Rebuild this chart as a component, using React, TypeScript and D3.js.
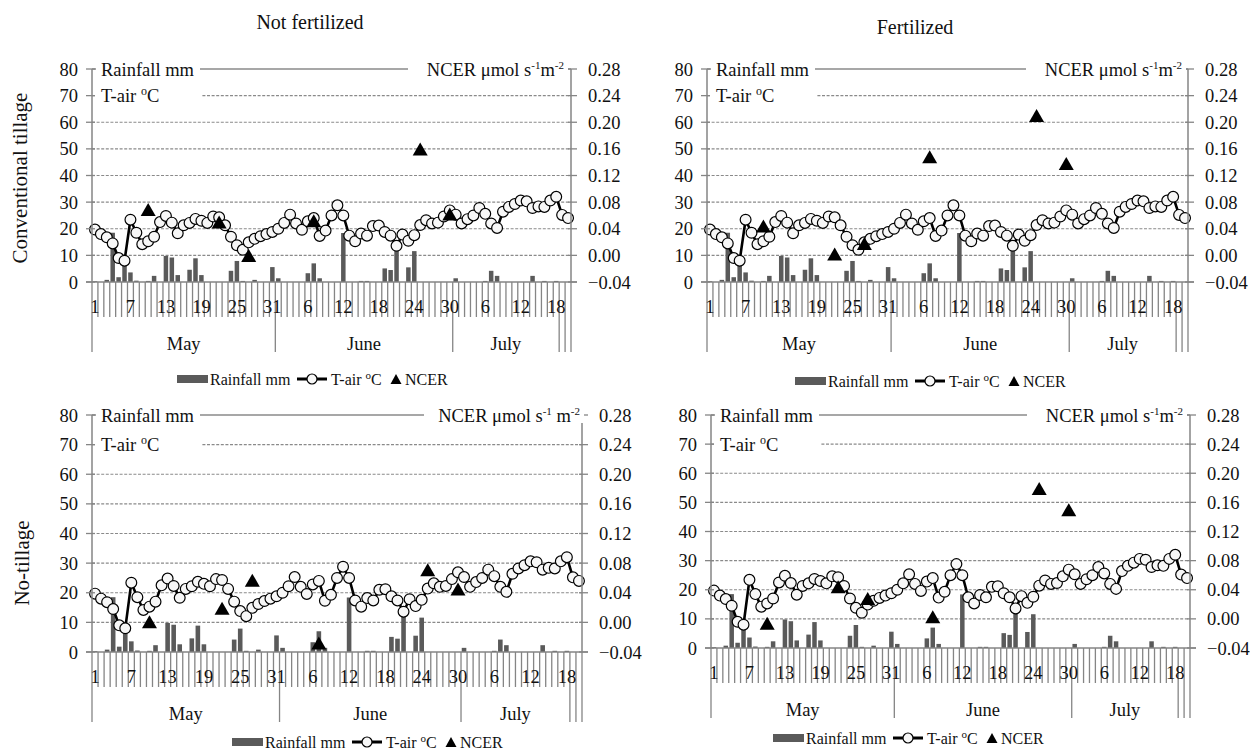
import React from "react";
import * as d3 from "d3";

// ---------- data ----------
const dayTickLabels = ["1", "7", "13", "19", "25", "31", "6", "12", "18", "24", "30", "6", "12", "18"];
const monthNames = ["May", "June", "July"];
const monthSpans = [[0, 31], [31, 61], [61, 79]];
const extraBoundaries = [79, 80, 81];

const tempC = [19.7, 18.0, 16.8, 14.5, 9.0, 8.0, 23.4, 18.5, 14.2, 15.3,
  17.0, 22.5, 24.8, 22.3, 18.3, 21.3, 22.2, 23.7, 23.0, 22.2,
  24.6, 24.3, 21.3, 17.0, 13.8, 12.1, 14.9, 16.2, 17.2, 18.0,
  18.8, 20.0, 22.2, 25.3, 22.0, 19.6, 22.8, 24.0, 17.3, 19.3,
  25.0, 28.8, 25.0, 17.4, 15.3, 18.2, 17.4, 21.0, 21.2, 18.8,
  17.4, 13.6, 17.8, 15.5, 17.6, 21.4, 23.2, 22.0, 22.3, 24.6,
  26.9, 25.3, 22.0, 23.6, 25.0, 27.8, 25.6, 22.0, 20.3, 26.4,
  28.2, 29.3, 30.6, 30.3, 27.8, 28.4, 28.2, 30.6, 32.0, 25.2, 24.0];

const rainMm = [0.3, 0, 0.8, 18.5, 1.8, 8.5, 3.6, 0.5, 0, 0.4,
  2.3, 0, 9.8, 9.2, 2.6, 0, 4.6, 8.9, 2.6, 0,
  0, 0, 0, 4.2, 7.9, 0.4, 0, 0.8, 0, 0,
  5.6, 1.4, 0, 0, 0, 0, 3.3, 7.0, 1.4, 0,
  0, 0, 18.4, 0, 0, 0.4, 0.4, 0, 0, 5.1,
  4.5, 12.5, 0, 5.5, 11.6, 0, 0, 0, 0, 0,
  0, 1.4, 0, 0, 0, 0, 0.4, 4.2, 2.3, 0,
  0, 0, 0, 0, 2.3, 0, 0.4, 0, 0.4, 0, 0];

const ncerDays = [9, 21, 26, 37, 55, 60];
const ncerConvNotFert = [0.069, 0.050, 0.000, 0.052, 0.160, 0.062];
const ncerConvFert = [0.044, 0.002, 0.018, 0.148, 0.210, 0.138];
const ncerNoTillNotFert = [0.001, 0.019, 0.057, -0.028, 0.071, 0.045];
const ncerNoTillFert = [-0.006, 0.044, 0.028, 0.003, 0.179, 0.150];

const mmTicks = [0, 10, 20, 30, 40, 50, 60, 70, 80];
const ncerTicks = [-0.04, 0.0, 0.04, 0.08, 0.12, 0.16, 0.2, 0.24, 0.28];

// ---------- style ----------
const FONT = "'Liberation Serif', 'Times New Roman', Times, 'Noto Serif', 'DejaVu Serif', FreeSerif, serif";
const AXIS = "#858585";
const GRID = "#8a8a8a";
const BAR = "#5a5a5a";

type Cfg = {
  x0: number; x1: number; yTop: number; yBot: number;
  ncer: number[];
  spaceBeforeM: boolean;
  ncerBoxRight: number;
  legendX: number; legendY: number;
};

function Panel({ cfg }: { cfg: Cfg }) {
  const n = tempC.length;
  const x = d3.scaleBand<number>().domain(d3.range(n)).range([cfg.x0, cfg.x1]).padding(0);
  const bw = x.bandwidth();
  const cx = (i: number) => (x(i) as number) + bw / 2;
  const yMm = d3.scaleLinear().domain([0, 80]).range([cfg.yBot, cfg.yTop]);
  const yN = d3.scaleLinear().domain([-0.04, 0.28]).range([cfg.yBot, cfg.yTop]);
  const line = d3.line<number>().x((_, i) => cx(i)).y((d) => yMm(d));
  const boundaries = d3.range(n + 1);
  const longB = [...monthSpans.map((s) => s[0]), ...extraBoundaries];
  const bx = (k: number) => cfg.x0 + k * bw;
  const fs = 18.5;

  const tri = (px: number, py: number, w = 15, h = 13) =>
    `M${px},${py - h / 2}L${px + w / 2},${py + h / 2}L${px - w / 2},${py + h / 2}Z`;

  return (
    <g style={{ fontFamily: FONT }} fill="#111">
      {mmTicks.filter((v) => v > 0 && v < 80).map((v) => (
        <line key={"g" + v} x1={cfg.x0} x2={cfg.x1} y1={yMm(v)} y2={yMm(v)}
          stroke={GRID} strokeWidth={1.1} strokeDasharray="3,1.6" />
      ))}
      <line x1={cfg.x0} x2={cfg.x1} y1={yMm(80)} y2={yMm(80)} stroke={GRID} strokeWidth={1.4} />

      {boundaries.map((k) => (
        <line key={"t" + k} x1={bx(k)} x2={bx(k)} y1={cfg.yBot}
          y2={cfg.yBot + (longB.includes(k) ? 70 : 35)} stroke={AXIS} strokeWidth={1.3} />
      ))}
      {dayTickLabels.map((t, j) => (
        <text key={"d" + j} x={cx(j * 6)} y={cfg.yBot + 31} fontSize={fs} textAnchor="middle">{t}</text>
      ))}
      {monthSpans.map((s, j) => (
        <text key={"m" + j} x={(bx(s[0]) + bx(s[1])) / 2} y={cfg.yBot + 68} fontSize={fs} textAnchor="middle">
          {monthNames[j]}
        </text>
      ))}

      {rainMm.map((v, i) => (v > 0 ? (
        <rect key={"b" + i} x={cx(i) - bw * 0.38} width={bw * 0.76} y={yMm(v)} height={yMm(0) - yMm(v)} fill={BAR} />
      ) : null))}

      <path d={line(tempC) || ""} fill="none" stroke="#000" strokeWidth={2.6} />
      {tempC.map((v, i) => (
        <circle key={"c" + i} cx={cx(i)} cy={yMm(v)} r={5.4} fill="#f7f7f7" stroke="#000" strokeWidth={1.2} />
      ))}

      {cfg.ncer.map((v, j) => (
        <path key={"n" + j} d={tri(cx(ncerDays[j]), yN(v))} fill="#000" />
      ))}

      <line x1={cfg.x0} x2={cfg.x0} y1={cfg.yTop} y2={cfg.yBot} stroke={AXIS} strokeWidth={1.5} />
      <line x1={cfg.x1} x2={cfg.x1} y1={cfg.yTop} y2={cfg.yBot} stroke={AXIS} strokeWidth={1.5} />
      <line x1={cfg.x0 - 6} x2={cfg.x1 + 6} y1={cfg.yBot} y2={cfg.yBot} stroke={AXIS} strokeWidth={1.5} />
      {mmTicks.map((v) => (
        <g key={"l" + v}>
          <line x1={cfg.x0 - 6} x2={cfg.x0 + 3} y1={yMm(v)} y2={yMm(v)} stroke={AXIS} strokeWidth={1.3} />
          <text x={cfg.x0 - 14} y={yMm(v) + 6.5} fontSize={fs} textAnchor="end">{v}</text>
        </g>
      ))}
      {ncerTicks.map((v) => (
        <g key={"r" + v}>
          <line x1={cfg.x1 - 3} x2={cfg.x1 + 6} y1={yN(v)} y2={yN(v)} stroke={AXIS} strokeWidth={1.3} />
          <text x={cfg.x1 + 17} y={yN(v) + 6.5} fontSize={fs} textAnchor="start">{d3.format(".2f")(v)}</text>
        </g>
      ))}

      <rect x={cfg.x0 + 4} y={yMm(80) - 10} width={104} height={20} fill="#fff" />
      <text x={cfg.x0 + 9} y={yMm(80) + 6.5} fontSize={fs}>Rainfall mm</text>
      <rect x={cfg.x0 + 4} y={yMm(70) - 10} width={106} height={20} fill="#fff" />
      <text x={cfg.x0 + 9} y={yMm(70) + 6.5} fontSize={fs}>
        T-air <tspan fontSize={12} dy={-7}>o</tspan><tspan dy={7}>C</tspan>
      </text>
      <rect x={cfg.ncerBoxRight - 160} y={yMm(80) - 10} width={160} height={18} fill="#fff" />
      <text x={cfg.ncerBoxRight - 4} y={yMm(80) + 6.5} fontSize={fs} textAnchor="end">
        NCER μmol s<tspan fontSize={11} dy={-7}>-1</tspan>
        <tspan dy={7}>{cfg.spaceBeforeM ? " m" : "m"}</tspan>
        <tspan fontSize={11} dy={-7}>-2</tspan>
      </text>

      <g transform={`translate(${cfg.legendX},${cfg.legendY})`} fontSize={16}>
        <rect x={0} y={-4} width={31} height={8} fill={BAR} />
        <text x={33} y={5.5}>Rainfall mm</text>
        <line x1={120} x2={150} y1={0} y2={0} stroke="#000" strokeWidth={3} />
        <circle cx={135} cy={0} r={5} fill="#f7f7f7" stroke="#000" strokeWidth={1.2} />
        <text x={154} y={5.5}>T-air <tspan fontSize={11} dy={-6}>o</tspan><tspan dy={6}>C</tspan></text>
        <path d={tri(219, 0, 11, 10)} fill="#000" />
        <text x={228} y={5.5}>NCER</text>
      </g>
    </g>
  );
}

const panels: Cfg[] = [
  { x0: 92, x1: 571, yTop: 69, yBot: 282, ncer: ncerConvNotFert, spaceBeforeM: false, ncerBoxRight: 568, legendX: 177, legendY: 379 },
  { x0: 707, x1: 1188, yTop: 69, yBot: 282, ncer: ncerConvFert, spaceBeforeM: false, ncerBoxRight: 1186, legendX: 795, legendY: 381 },
  { x0: 92, x1: 582, yTop: 415, yBot: 652, ncer: ncerNoTillNotFert, spaceBeforeM: true, ncerBoxRight: 584, legendX: 232, legendY: 742 },
  { x0: 711, x1: 1190, yTop: 415, yBot: 648, ncer: ncerNoTillFert, spaceBeforeM: false, ncerBoxRight: 1187, legendX: 773, legendY: 738 },
];

export default function App() {
  return (
    <svg width={1250} height={751} style={{ position: "absolute", left: 0, top: 0, background: "#fff", fontFamily: FONT }}>
      <rect width={1250} height={751} fill="#fff" />
      <g style={{ fontFamily: FONT }} fill="#111">
        <text x={310} y={29} fontSize={20} textAnchor="middle">Not fertilized</text>
        <text x={915} y={34} fontSize={20} textAnchor="middle">Fertilized</text>
        <text transform="translate(27,178) rotate(-90)" fontSize={21} textAnchor="middle">Conventional tillage</text>
        <text transform="translate(29,563) rotate(-90)" fontSize={21} textAnchor="middle">No-tillage</text>
      </g>
      {panels.map((p, i) => <Panel key={i} cfg={p} />)}
    </svg>
  );
}
